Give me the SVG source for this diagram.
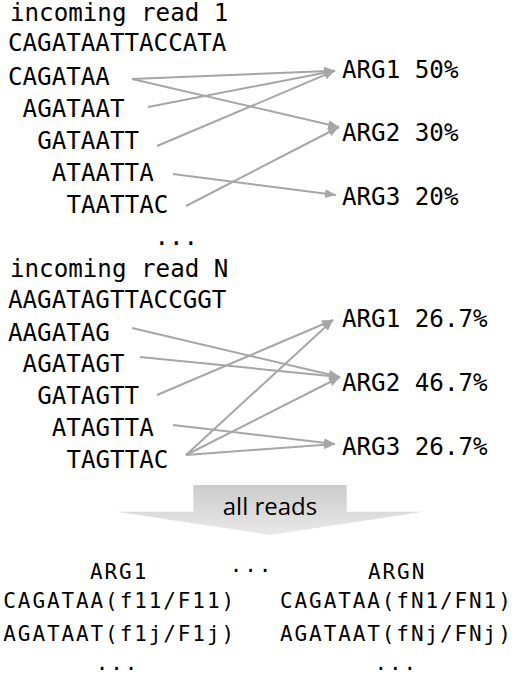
<svg xmlns="http://www.w3.org/2000/svg" width="512" height="676" viewBox="0 0 512 676">
<style>
.t{font-family:"DejaVu Sans Mono","Liberation Mono",monospace;font-size:24.2px;fill:#000}
.b{font-family:"DejaVu Sans Mono","Liberation Mono",monospace;font-size:21px;letter-spacing:1.9px;fill:#000}
.c line{stroke:#a6a6a6;stroke-width:2;fill:none;marker-end:url(#ah)}
.s{font-family:"Open Sans","Liberation Sans",sans-serif;font-size:24px;fill:#000}
</style>
<defs>
<marker id="ah" markerUnits="userSpaceOnUse" markerWidth="12" markerHeight="10" refX="11" refY="4.5" orient="auto">
<path d="M0,0 L11,4.5 L0,9 z" fill="#a6a6a6"/>
</marker>
<linearGradient id="g" x1="0" y1="0" x2="0" y2="1">
<stop offset="0" stop-color="#cccccc"/>
<stop offset="1" stop-color="#e9e9e9"/>
</linearGradient>
</defs>
<rect width="512" height="676" fill="#fff"/>

<g id="read1">
<text class="t" x="10" y="21">incoming read 1</text>
<text class="t" x="8" y="51">CAGATAATTACCATA</text>
</g>
<g id="r1k1"><text class="t" x="8" y="85">CAGATAA</text></g>
<g id="r1k2"><text class="t" x="22.6" y="117">AGATAAT</text></g>
<g id="r1k3"><text class="t" x="37.2" y="149">GATAATT</text></g>
<g id="r1k4"><text class="t" x="51.8" y="181">ATAATTA</text></g>
<g id="r1k5"><text class="t" x="66.4" y="213">TAATTAC</text></g>
<g id="r1a1"><text class="t" x="342" y="78">ARG1 50%</text></g>
<g id="r1a2"><text class="t" x="342" y="141">ARG2 30%</text></g>
<g id="r1a3"><text class="t" x="342" y="205">ARG3 20%</text></g>

<g id="dots1"><text class="t" x="154.5" y="245">...</text></g>

<g id="readN">
<text class="t" x="10" y="277">incoming read N</text>
<text class="t" x="8" y="308">AAGATAGTTACCGGT</text>
</g>
<g id="rNk1"><text class="t" x="8" y="341">AAGATAG</text></g>
<g id="rNk2"><text class="t" x="22.6" y="372">AGATAGT</text></g>
<g id="rNk3"><text class="t" x="37.2" y="404">GATAGTT</text></g>
<g id="rNk4"><text class="t" x="51.8" y="436">ATAGTTA</text></g>
<g id="rNk5"><text class="t" x="66.4" y="468">TAGTTAC</text></g>
<g id="rNa1"><text class="t" x="342" y="327">ARG1 26.7%</text></g>
<g id="rNa2"><text class="t" x="342" y="391">ARG2 46.7%</text></g>
<g id="rNa3"><text class="t" x="342" y="455">ARG3 26.7%</text></g>

<g class="c" id="connectors">
<line x1="132" y1="79" x2="335" y2="70.7"/>
<line x1="132" y1="79" x2="339" y2="127"/>
<line x1="148" y1="107" x2="335" y2="70.7"/>
<line x1="157" y1="146" x2="335" y2="70.7"/>
<line x1="173" y1="174" x2="336" y2="195"/>
<line x1="186" y1="206" x2="339" y2="127"/>
<line x1="132" y1="328" x2="340" y2="377"/>
<line x1="140" y1="357" x2="340" y2="377"/>
<line x1="157" y1="395" x2="333" y2="320"/>
<line x1="173" y1="425" x2="335" y2="444"/>
<line x1="186" y1="455" x2="333" y2="320"/>
<line x1="186" y1="455" x2="340" y2="377"/>
<line x1="186" y1="455" x2="335" y2="444"/>
</g>

<g id="allreads">
<path d="M193.3,485 L346.7,485 L346.7,511.7 L423.3,511.7 L270,535 L116.7,511.7 L193.3,511.7 Z" fill="url(#g)"/>
<text class="s" x="270" y="515" text-anchor="middle">all reads</text>
</g>

<g id="arg1out">
<text class="b" x="90" y="579">ARG1</text>
<text class="b" x="3.3" y="608">CAGATAA(f11/F11)</text>
<text class="b" x="3.3" y="641">AGATAAT(f1j/F1j)</text>
<text class="b" x="95.7" y="670">...</text>
</g>
<g id="middots"><text class="b" x="229.7" y="572">...</text></g>
<g id="argNout">
<text class="b" x="368" y="579">ARGN</text>
<text class="b" x="280" y="608">CAGATAA(fN1/FN1)</text>
<text class="b" x="280" y="641">AGATAAT(fNj/FNj)</text>
<text class="b" x="374.4" y="670">...</text>
</g>
</svg>
